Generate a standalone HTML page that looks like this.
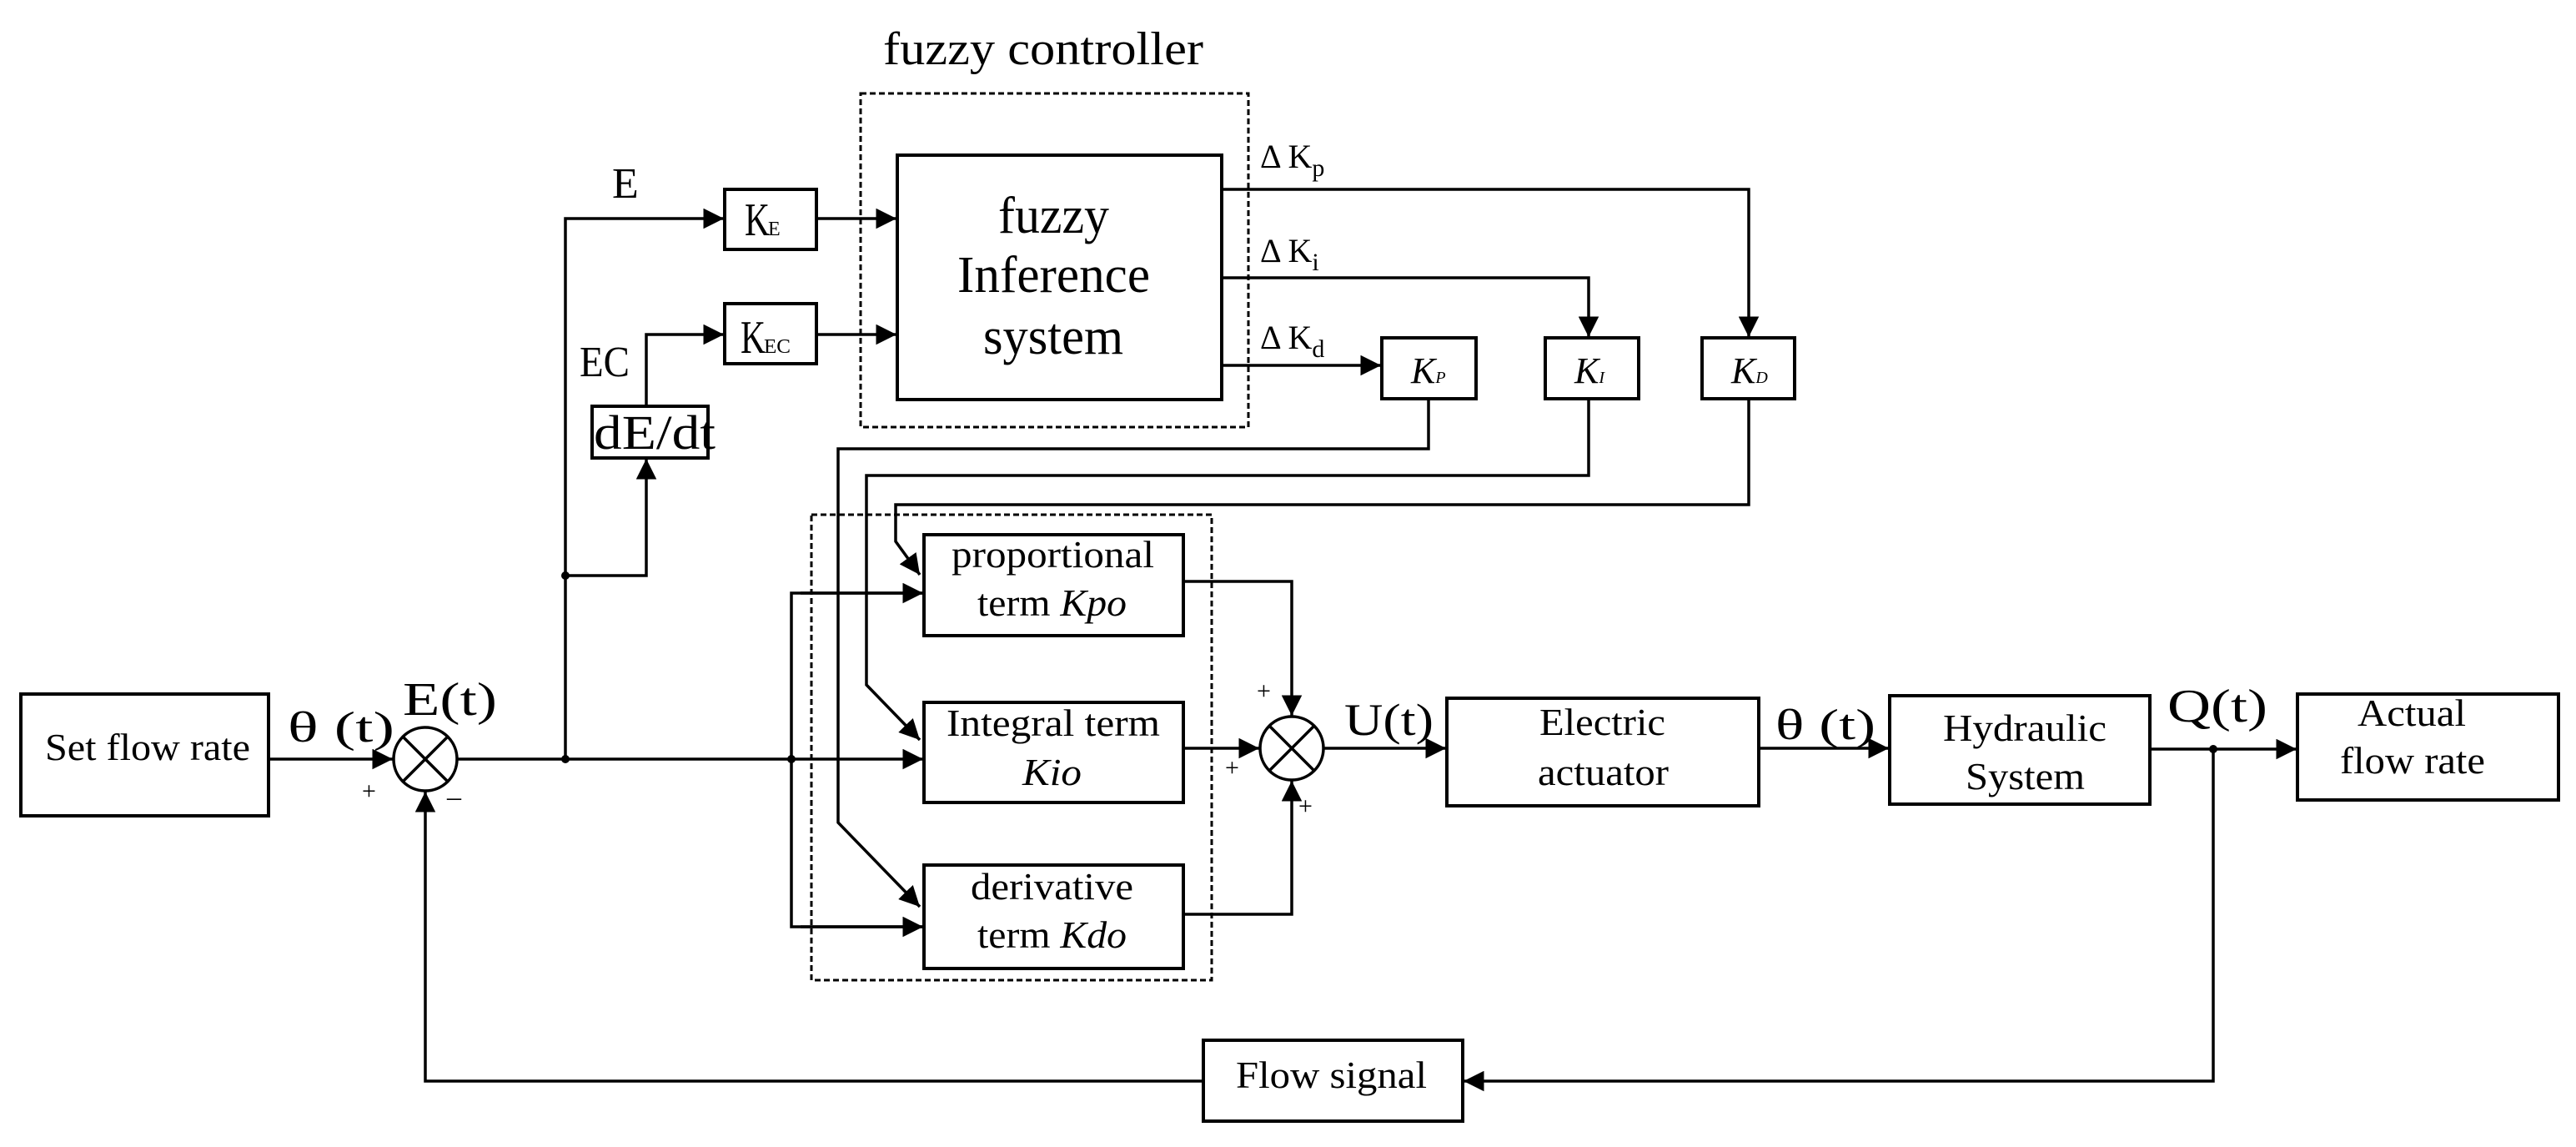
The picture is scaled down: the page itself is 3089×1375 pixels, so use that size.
<!DOCTYPE html>
<html><head><meta charset="utf-8"><style>
html,body{margin:0;padding:0;background:#fff;}
svg{display:block;}
text{font-family:"Liberation Serif",serif;fill:#000;}
</style></head><body>
<svg width="3089" height="1375" viewBox="0 0 3089 1375" xmlns="http://www.w3.org/2000/svg">
<defs>
<marker id="a" viewBox="0 0 10 10" refX="10" refY="5" markerWidth="7" markerHeight="7" markerUnits="strokeWidth" orient="auto"><path d="M0,0 L10,5 L0,10 z" fill="#000"/></marker>
</defs>
<g fill="none" stroke="#000" stroke-width="3.5">
<rect x="1032" y="112" width="465" height="400" stroke-dasharray="7,4" stroke-width="3"/>
<rect x="973" y="617" width="480" height="558" stroke-dasharray="7,4" stroke-width="3"/>
<rect x="25" y="832" width="297" height="146" stroke-width="4"/>
<rect x="869" y="227" width="110" height="72" stroke-width="4"/>
<rect x="869" y="364" width="110" height="72" stroke-width="4"/>
<rect x="1076" y="186" width="389" height="293" stroke-width="4"/>
<rect x="710" y="487" width="139" height="62" stroke-width="4"/>
<rect x="1657" y="405" width="113" height="73" stroke-width="4"/>
<rect x="1853" y="405" width="112" height="73" stroke-width="4"/>
<rect x="2041" y="405" width="111" height="73" stroke-width="4"/>
<rect x="1108" y="641" width="311" height="121" stroke-width="4"/>
<rect x="1108" y="842" width="311" height="120" stroke-width="4"/>
<rect x="1108" y="1037" width="311" height="124" stroke-width="4"/>
<rect x="1735" y="837" width="374" height="129" stroke-width="4"/>
<rect x="2266" y="834" width="312" height="130" stroke-width="4"/>
<rect x="2755" y="832" width="313" height="127" stroke-width="4"/>
<rect x="1443" y="1247" width="311" height="97" stroke-width="4"/>
<circle cx="510" cy="910" r="38"/>
<line x1="483" y1="883" x2="537" y2="937"/><line x1="537" y1="883" x2="483" y2="937"/>
<circle cx="1549" cy="897" r="38"/>
<line x1="1522" y1="870" x2="1576" y2="924"/><line x1="1576" y1="870" x2="1522" y2="924"/>
<line x1="322" y1="910" x2="471" y2="910" marker-end="url(#a)"/>
<line x1="548" y1="910" x2="1107" y2="910" marker-end="url(#a)"/>
<polyline points="678,910 678,262 868,262" marker-end="url(#a)"/>
<line x1="979" y1="262" x2="1075" y2="262" marker-end="url(#a)"/>
<polyline points="678,690 775,690 775,550" marker-end="url(#a)"/>
<polyline points="775,487 775,401 868,401" marker-end="url(#a)"/>
<line x1="979" y1="401" x2="1075" y2="401" marker-end="url(#a)"/>
<polyline points="1465,227 2097,227 2097,404" marker-end="url(#a)"/>
<polyline points="1465,333 1905,333 1905,404" marker-end="url(#a)"/>
<line x1="1465" y1="438" x2="1656" y2="438" marker-end="url(#a)"/>
<polyline points="1713,478 1713,538 1005,538 1005,986 1103,1087" marker-end="url(#a)"/>
<polyline points="1905,478 1905,570 1039,570 1039,821 1103,887" marker-end="url(#a)"/>
<polyline points="2097,478 2097,605 1074,605 1074,649 1103,689" marker-end="url(#a)"/>
<polyline points="1107,711 949,711 949,1111 1107,1111" />
<line x1="960" y1="711" x2="1107" y2="711" marker-end="url(#a)"/>
<line x1="960" y1="1111" x2="1107" y2="1111" marker-end="url(#a)"/>
<polyline points="1419,697 1549,697 1549,858" marker-end="url(#a)"/>
<line x1="1419" y1="897" x2="1510" y2="897" marker-end="url(#a)"/>
<polyline points="1419,1096 1549,1096 1549,936" marker-end="url(#a)"/>
<line x1="1587" y1="897" x2="1734" y2="897" marker-end="url(#a)"/>
<line x1="2109" y1="897" x2="2265" y2="897" marker-end="url(#a)"/>
<line x1="2578" y1="898" x2="2754" y2="898" marker-end="url(#a)"/>
<polyline points="2654,898 2654,1296 1755,1296" marker-end="url(#a)"/>
<polyline points="1443,1296 510,1296 510,949" marker-end="url(#a)"/>
</g>
<g fill="#000">
<circle cx="678" cy="910" r="5"/><circle cx="678" cy="690" r="5"/><circle cx="949" cy="910" r="5"/><circle cx="2654" cy="898" r="5"/>
</g>
<text x="1059" y="77" font-size="56" textLength="384" lengthAdjust="spacingAndGlyphs">fuzzy controller</text>
<text x="1197" y="279" font-size="62" textLength="133" lengthAdjust="spacingAndGlyphs">fuzzy</text>
<text x="1148" y="350" font-size="62" textLength="231" lengthAdjust="spacingAndGlyphs">Inference</text>
<text x="1179" y="424" font-size="62" textLength="168" lengthAdjust="spacingAndGlyphs">system</text>
<text x="734" y="237" font-size="52">E</text>
<text x="695" y="451" font-size="52" textLength="60" lengthAdjust="spacingAndGlyphs">EC</text>
<text x="712" y="538" font-size="58" textLength="146" lengthAdjust="spacingAndGlyphs">dE/dt</text>
<text x="893" y="282" font-size="56" textLength="30" lengthAdjust="spacingAndGlyphs">K</text>
<text x="921" y="282" font-size="24">E</text>
<text x="888" y="423" font-size="56" textLength="30" lengthAdjust="spacingAndGlyphs">K</text>
<text x="916" y="423" font-size="24" textLength="32" lengthAdjust="spacingAndGlyphs">EC</text>
<text x="1511" y="201" font-size="40">Δ K<tspan font-size="30" dy="10">p</tspan></text>
<text x="1511" y="314" font-size="40">Δ K<tspan font-size="30" dy="10">i</tspan></text>
<text x="1511" y="418" font-size="40">Δ K<tspan font-size="30" dy="10">d</tspan></text>
<text x="1692" y="459" font-size="44" font-style="italic">K<tspan font-size="20">P</tspan></text>
<text x="1888" y="459" font-size="44" font-style="italic">K<tspan font-size="20">I</tspan></text>
<text x="2076" y="459" font-size="44" font-style="italic">K<tspan font-size="20">D</tspan></text>
<text x="54" y="911" font-size="46" textLength="246" lengthAdjust="spacingAndGlyphs">Set flow rate</text>
<text x="345" y="889" font-size="52" textLength="128" lengthAdjust="spacingAndGlyphs">θ (t)</text>
<text x="483" y="857" font-size="56" textLength="113" lengthAdjust="spacingAndGlyphs">E(t)</text>
<text x="434" y="958" font-size="30">+</text>
<text x="536" y="966" font-size="34">–</text>
<text x="1141" y="680" font-size="46" textLength="243" lengthAdjust="spacingAndGlyphs">proportional</text>
<text x="1172" y="738" font-size="46" textLength="179" lengthAdjust="spacingAndGlyphs">term <tspan font-style="italic">Kpo</tspan></text>
<text x="1135" y="882" font-size="46" textLength="256" lengthAdjust="spacingAndGlyphs">Integral term</text>
<text x="1226" y="941" font-size="46" font-style="italic" textLength="71" lengthAdjust="spacingAndGlyphs">Kio</text>
<text x="1164" y="1078" font-size="46" textLength="195" lengthAdjust="spacingAndGlyphs">derivative</text>
<text x="1172" y="1136" font-size="46" textLength="179" lengthAdjust="spacingAndGlyphs">term <tspan font-style="italic">Kdo</tspan></text>
<text x="1507" y="838" font-size="30">+</text>
<text x="1469" y="930" font-size="30">+</text>
<text x="1557" y="976" font-size="30">+</text>
<text x="1612" y="881" font-size="54" textLength="107" lengthAdjust="spacingAndGlyphs">U(t)</text>
<text x="1846" y="881" font-size="46" textLength="151" lengthAdjust="spacingAndGlyphs">Electric</text>
<text x="1844" y="941" font-size="46" textLength="157" lengthAdjust="spacingAndGlyphs">actuator</text>
<text x="2129" y="886" font-size="52" textLength="120" lengthAdjust="spacingAndGlyphs">θ (t)</text>
<text x="2330" y="888" font-size="46" textLength="196" lengthAdjust="spacingAndGlyphs">Hydraulic</text>
<text x="2357" y="946" font-size="46" textLength="143" lengthAdjust="spacingAndGlyphs">System</text>
<text x="2599" y="865" font-size="56" textLength="120" lengthAdjust="spacingAndGlyphs">Q(t)</text>
<text x="2827" y="870" font-size="46" textLength="130" lengthAdjust="spacingAndGlyphs">Actual</text>
<text x="2806" y="927" font-size="46" textLength="174" lengthAdjust="spacingAndGlyphs">flow rate</text>
<text x="1482" y="1304" font-size="46" textLength="229" lengthAdjust="spacingAndGlyphs">Flow signal</text>
</svg>
</body></html>
